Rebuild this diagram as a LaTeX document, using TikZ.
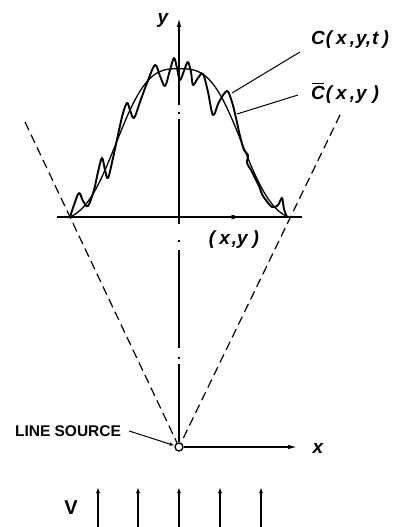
\documentclass[tikz,border=0pt]{standalone}
\usepackage{fontspec}
\setmainfont{Liberation Sans}
\usetikzlibrary{arrows.meta}
\newcommand{\mycbar}{\leavevmode\setbox0\hbox{C}\rlap{\kern0.8pt\raisebox{\dimexpr\ht0+1.6pt}{\rule{\dimexpr\wd0-2pt}{1.4pt}}}C}
\begin{document}
\begin{tikzpicture}[x=1pt,y=-1pt,
  axisline/.style={line width=1.3pt},
  bigtip/.style={-{Latex[length=9pt,width=4.5pt]}},
  smalltip/.style={-{Latex[length=6pt,width=4pt]}},
  dashline/.style={line width=1.2pt,dash pattern=on 9pt off 5pt},
  lbl/.style={font=\fontsize{19}{19}\selectfont\bfseries\itshape,inner sep=0pt},
  caps/.style={font=\fontsize{15.5}{15.5}\selectfont\bfseries,inner sep=0pt},
  leader/.style={line width=1pt},
  fluct/.style={line width=1.9pt,line join=round},
  mean/.style={line width=1.3pt}]
\useasboundingbox (0,0) rectangle (403,527);

% source
\node[circle,draw,fill=white,line width=1.3pt,minimum size=8pt,inner sep=0pt] (src) at (179,447) {};
\coordinate (ytop) at (179,18);
\coordinate (xtip) at (297,447);
\coordinate (blL) at (57,217);
\coordinate (blR) at (302,217);
\coordinate (dl) at (25,122);
\coordinate (dr) at (340,115);

% baseline
\draw[axisline] (blL) -- (blR);
\fill (233,217) circle (2.2pt);

% y axis (dash-dot)
\draw[axisline,{Latex[length=9pt,width=4.5pt]}-,
  dash pattern=on 79pt off 7pt on 2pt off 5pt on 105pt off 16pt on 2pt off 8pt on 98pt off 9pt on 2pt off 5pt on 90pt]
  (ytop) -- (src.north);
% x axis
\draw[axisline,bigtip] (src) -- (xtip);

% dashed rays
\draw[dashline] (dl) -- (src);
\draw[dashline] (dr) -- (src);

% mean profile
\draw[mean] plot[domain=-109:109,samples=120]
  ({179+\x},{217-153*(exp(-(abs(\x)/72)*(\x/72)*(\x/72))-0.031)});

% fluctuating profile
\draw[fluct] plot[smooth,tension=0.55] coordinates {
 (70,217) (74,205) (79,193) (83,201) (88,206) (94,190) (98,172) (102,158)
 (105,170) (108,178) (113,158) (122,117) (127,103) (130,110) (134,118)
 (140,102) (147,83) (155,65) (160,76) (165,86) (170,70) (174,58)
 (177,68) (180,80) (185,68) (188,62) (191,72) (193,85) (198,78) (203,74)
 (208,92) (213,115) (219,102) (227,91) (232,102) (236,118) (240,136)
 (244,150) (248,155) (247,163) (251,170) (256,180) (259,186) (263,196)
 (272,207) (278,205) (282,198) (284,209) (287,217)};

% labels
\node[lbl] (ylab) at (163,20) {y};
\node[lbl] (xlab) at (318,448) {x};
\node[lbl] (pt) at (234,240) {(\kern4pt x\kern2pt,y\kern5pt)};
\node[lbl,anchor=west] (ct) at (311,40) {C\kern1pt(\kern4pt x\kern3pt,\kern1pt y,\kern1pt t\kern4pt)};
\node[lbl,anchor=west] (cb) at (311,93) {\mycbar\kern1pt(\kern4pt x\kern3pt,\kern1pt y\kern6pt)};
\coordinate (ctA) at (300,52);
\coordinate (ctB) at (232,93);
\coordinate (cbA) at (298,95);
\coordinate (cbB) at (237,114);
\draw[leader] (ctA) -- (ctB);
\draw[leader] (cbA) -- (cbB);

\node[caps] (ls) at (68,431) {LINE SOURCE};
\draw[leader,-{Latex[length=5pt,width=3.5pt]}] ([xshift=8pt]ls.east) -- (src);

% free stream arrows
\node[font=\fontsize{20}{20}\selectfont\bfseries,inner sep=0pt] (vlab) at (71,508) {V};
\foreach \i/\xx in {1/98,2/138,3/179,4/220,5/261}{
  \coordinate (b\i) at (\xx,527);
  \coordinate (t\i) at (\xx,487);
  \draw[axisline,smalltip] (b\i) -- (t\i);
}
\end{tikzpicture}
\end{document}
